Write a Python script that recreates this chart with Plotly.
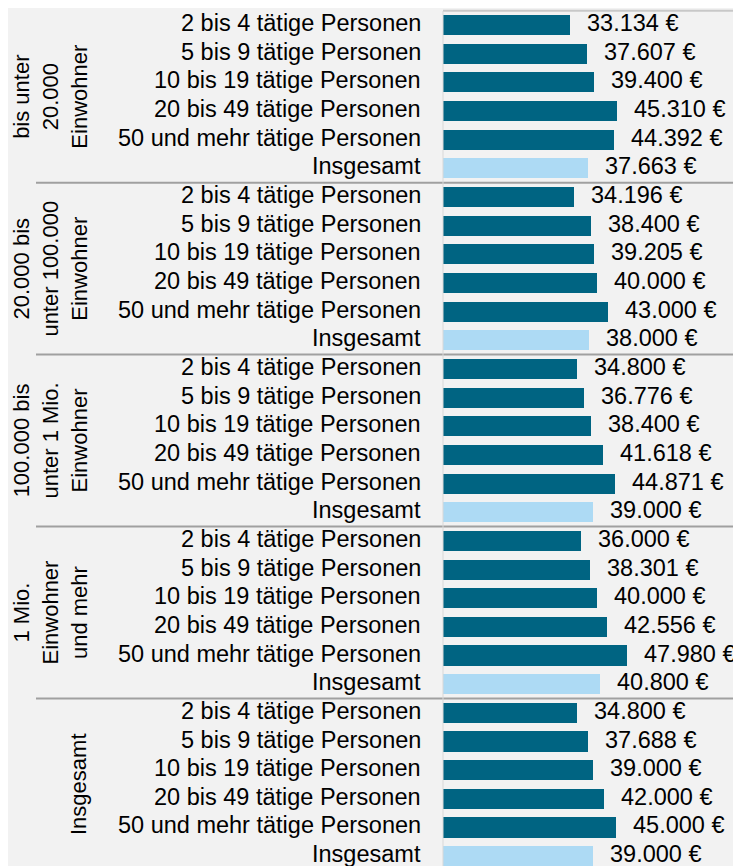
import plotly.graph_objects as go

group_labels = [
    "bis unter<br>20.000<br>Einwohner",
    "20.000 bis<br>unter 100.000<br>Einwohner",
    "100.000 bis<br>unter 1 Mio.<br>Einwohner",
    "1 Mio.<br>Einwohner<br>und mehr",
    "Insgesamt",
]
categories = [
    "2 bis 4 tätige Personen",
    "5 bis 9 tätige Personen",
    "10 bis 19 tätige Personen",
    "20 bis 49 tätige Personen",
    "50 und mehr tätige Personen",
    "Insgesamt",
]
values_g1 = [33134, 37607, 39400, 45310, 44392, 37663]
values_g2 = [34196, 38400, 39205, 40000, 43000, 38000]
values_g3 = [34800, 36776, 38400, 41618, 44871, 39000]
values_g4 = [36000, 38301, 40000, 42556, 47980, 40800]
values_g5 = [34800, 37688, 39000, 42000, 45000, 39000]
all_groups = [values_g1, values_g2, values_g3, values_g4, values_g5]

DARK = "#006482"
LIGHT = "#ADDAF4"
BG = "#F2F2F2"
FONT = "Liberation Sans, Arial, sans-serif"
FS = 23.5
FS_GROUP = 22

# page body has an 8px margin, so the figure is drawn 8px in from the corner
OFF = 8
W, H = 741 - OFF, 866 - OFF
n_cat = len(categories)

def px(xr):
    return (xr - OFF) / W

xs, ys, colors, labels_cat = [], [], [], []
for gi, vals in enumerate(all_groups):
    for ci, v in enumerate(vals):
        xs.append(v)
        ys.append(gi * n_cat + ci)
        colors.append(LIGHT if ci == n_cat - 1 else DARK)
        labels_cat.append(categories[ci])

def fmt(v):
    return f"{v:,}".replace(",", ".") + " €"

fig = go.Figure()
fig.add_trace(go.Bar(
    x=xs, y=ys, orientation="h",
    marker=dict(color=colors, line=dict(width=0)),
    width=0.70, hoverinfo="skip",
))

annotations = []
for x, y, c in zip(xs, ys, labels_cat):
    annotations.append(dict(
        x=x, y=y, xref="x", yref="y", text=fmt(x), showarrow=False,
        xanchor="left", yanchor="middle", xshift=15, yshift=2,
        font=dict(family=FONT, size=FS, color="#000000"),
    ))
    annotations.append(dict(
        x=px(423), y=y, xref="paper", yref="y", text=c, showarrow=False,
        xanchor="right", yanchor="middle", yshift=2,
        font=dict(family=FONT, size=FS, color="#000000"),
    ))

for gi, g in enumerate(group_labels):
    annotations.append(dict(
        x=px(93), y=gi * n_cat + (n_cat - 1) / 2, xref="paper", yref="y",
        text=g, showarrow=False, textangle=-90, align="center",
        xanchor="right", yanchor="middle",
        font=dict(family=FONT, size=FS_GROUP, color="#000000"),
    ))

row_px = 28.66
top_center = 25 - OFF
n_rows = len(ys)
y_top = -top_center / row_px
y_bot = (n_rows - 1) + (H - (top_center + row_px * (n_rows - 1))) / row_px
top_frac = 1 - (11 - OFF) / H

shapes = []
for gi in range(1, len(group_labels)):
    yb = gi * n_cat - 0.5
    shapes.append(dict(type="line", xref="paper", yref="y",
                       x0=px(36), x1=1, y0=yb, y1=yb,
                       line=dict(color="#A0A0A0", width=2)))
shapes.append(dict(type="line", xref="paper", yref="y",
                   x0=px(443), x1=px(735), y0=-0.5, y1=-0.5,
                   line=dict(color="#C8C8C8", width=2)))
shapes.append(dict(type="line", xref="paper", yref="paper",
                   x0=px(735), x1=px(735), y0=0, y1=top_frac,
                   line=dict(color="#C0C0C0", width=2)))
shapes.append(dict(type="line", xref="paper", yref="paper",
                   x0=px(443), x1=px(443), y0=0, y1=top_frac,
                   line=dict(color="#D8D8D8", width=1)))

fig.update_layout(
    width=W, height=H,
    margin=dict(l=0, r=0, t=0, b=0),
    paper_bgcolor=BG, plot_bgcolor=BG,
    showlegend=False,
    bargap=0,
    xaxis=dict(domain=[px(443), px(735)], range=[0, 76000],
               showgrid=False, zeroline=False, showticklabels=False,
               showline=False, fixedrange=True),
    yaxis=dict(range=[y_bot, y_top], showgrid=False, zeroline=False,
               showticklabels=False, showline=False, fixedrange=True),
    annotations=annotations,
    shapes=shapes,
)

fig.write_html("out.html")
